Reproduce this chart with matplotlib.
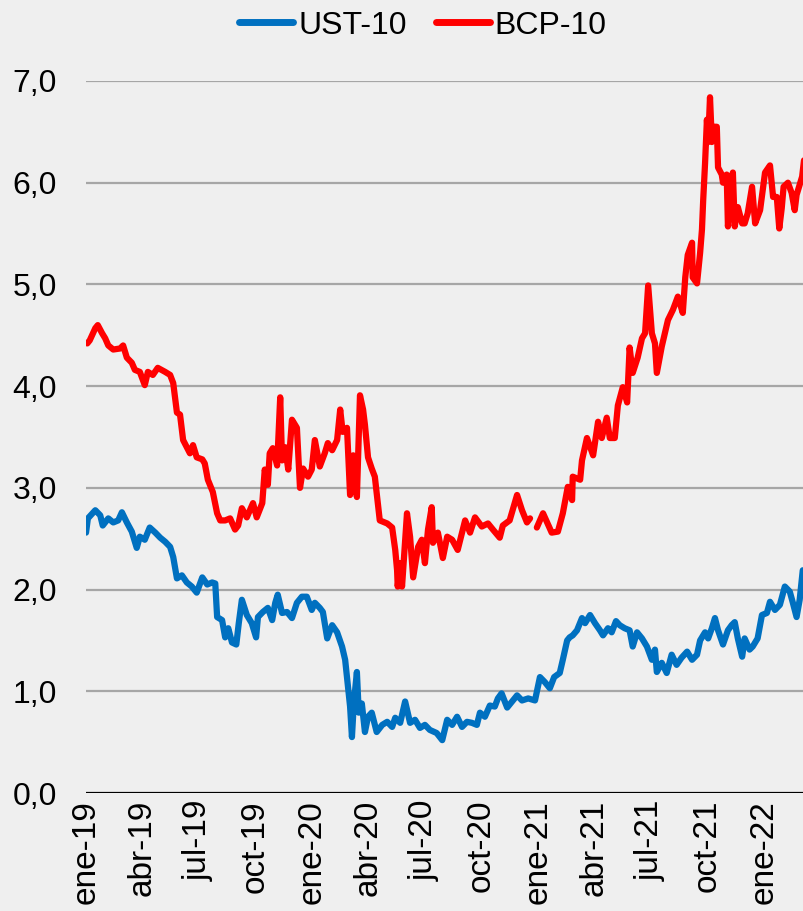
import numpy as np
import pandas as pd
import matplotlib
matplotlib.use("Agg")
import matplotlib.pyplot as plt

# BCP-10 (Peru 10y bond yield, %)
bcp_dates = [
    "2019-01-03", "2019-01-07", "2019-01-16", "2019-01-20", "2019-01-27", "2019-02-01", "2019-02-06",
    "2019-02-14", "2019-02-25", "2019-03-02", "2019-03-08", "2019-03-16", "2019-03-21", "2019-03-29",
    "2019-04-06", "2019-04-11", "2019-04-19", "2019-04-27", "2019-05-09", "2019-05-17", "2019-05-22",
    "2019-05-28", "2019-06-02", "2019-06-07", "2019-06-13", "2019-06-18", "2019-06-23", "2019-06-29",
    "2019-07-08", "2019-07-12", "2019-07-17", "2019-07-25", "2019-08-01", "2019-08-06", "2019-08-14",
    "2019-08-22", "2019-08-30", "2019-09-04", "2019-09-10", "2019-09-18", "2019-09-28", "2019-10-04",
    "2019-10-13", "2019-10-17", "2019-10-22", "2019-10-25", "2019-10-30", "2019-11-06", "2019-11-11",
    "2019-11-14", "2019-11-19", "2019-11-24", "2019-11-30", "2019-12-08", "2019-12-13", "2019-12-18",
    "2019-12-26", "2020-01-01", "2020-01-06", "2020-01-14", "2020-01-22", "2020-01-27", "2020-02-03",
    "2020-02-11", "2020-02-16", "2020-02-20", "2020-02-27", "2020-03-03", "2020-03-08", "2020-03-14",
    "2020-03-19", "2020-03-24", "2020-03-27", "2020-04-01", "2020-04-07", "2020-04-12", "2020-04-20",
    "2020-05-02", "2020-05-10", "2020-05-15", "2020-05-18", "2020-05-19", "2020-05-23", "2020-05-26",
    "2020-06-03", "2020-06-08", "2020-06-13", "2020-06-21", "2020-06-27", "2020-07-02", "2020-07-07",
    "2020-07-13", "2020-07-15", "2020-07-23", "2020-07-31", "2020-08-07", "2020-08-15", "2020-08-24",
    "2020-09-05", "2020-09-13", "2020-09-21", "2020-10-02", "2020-10-12", "2020-10-20", "2020-10-31",
    "2020-11-05", "2020-11-16", "2020-11-28", "2020-12-06", "2020-12-14", "2020-12-19", "2020-12-24",
    "2020-12-30", "2021-01-09", "2021-01-23", "2021-02-02", "2021-02-10", "2021-02-18", "2021-02-25",
    "2021-02-26", "2021-03-10", "2021-03-13", "2021-03-21", "2021-03-31", "2021-04-08", "2021-04-14",
    "2021-04-22", "2021-04-27", "2021-05-05", "2021-05-10", "2021-05-18", "2021-05-25", "2021-05-29",
    "2021-06-03", "2021-06-11", "2021-06-18", "2021-06-23", "2021-06-28", "2021-07-04", "2021-07-09",
    "2021-07-12", "2021-07-20", "2021-07-25", "2021-07-30", "2021-08-07", "2021-08-15", "2021-08-23",
    "2021-08-27", "2021-08-31", "2021-09-07", "2021-09-08", "2021-09-15", "2021-09-20", "2021-09-23",
    "2021-09-25", "2021-09-28", "2021-10-01", "2021-10-03", "2021-10-06", "2021-10-09", "2021-10-12",
    "2021-10-17", "2021-10-19", "2021-10-25", "2021-10-27", "2021-11-02", "2021-11-04", "2021-11-09",
    "2021-11-12", "2021-11-15", "2021-11-20", "2021-11-27", "2021-12-01", "2021-12-06", "2021-12-13",
    "2021-12-18", "2021-12-26", "2022-01-03", "2022-01-11", "2022-01-16", "2022-01-22", "2022-01-26",
    "2022-01-30", "2022-02-02", "2022-02-09", "2022-02-15", "2022-02-20", "2022-02-23", "2022-03-04",
    "2022-03-07",
]
bcp_values = [
    4.42, 4.45, 4.57, 4.60, 4.52, 4.47, 4.40,
    4.36, 4.37, 4.40, 4.28, 4.23, 4.16, 4.14,
    4.01, 4.14, 4.11, 4.18, 4.14, 4.11, 4.03,
    3.74, 3.72, 3.47, 3.40, 3.34, 3.42, 3.30,
    3.28, 3.24, 3.08, 2.96, 2.75, 2.68, 2.68,
    2.70, 2.59, 2.63, 2.80, 2.71, 2.85, 2.71,
    2.85, 3.18, 3.03, 3.34, 3.39, 3.22, 3.89,
    3.27, 3.40, 3.18, 3.67, 3.59, 3.00, 3.19,
    3.11, 3.18, 3.47, 3.21, 3.34, 3.44, 3.37,
    3.47, 3.77, 3.55, 3.59, 2.93, 3.32, 2.91,
    3.91, 3.77, 3.62, 3.30, 3.19, 3.11, 2.68,
    2.65, 2.61, 2.39, 2.19, 2.03, 2.26, 2.03,
    2.75, 2.52, 2.12, 2.42, 2.49, 2.26, 2.59,
    2.81, 2.46, 2.56, 2.31, 2.52, 2.49, 2.39,
    2.68, 2.56, 2.71, 2.62, 2.65, 2.59, 2.51,
    2.63, 2.68, 2.93, 2.78, 2.66, 2.70, np.nan,
    2.61, 2.75, 2.56, 2.57, 2.75, 3.01, 2.88,
    3.11, 3.08, 3.27, 3.49, 3.32, 3.65, 3.49,
    3.69, 3.49, 3.49, 3.81, 3.99, 3.84, 4.38,
    4.13, 4.28, 4.47, 4.52, 4.99, 4.52, 4.42,
    4.13, 4.39, 4.52, 4.65, 4.75, 4.88, 4.72,
    5.07, 5.29, 5.41, 5.07, 5.01, 5.31, 5.54,
    5.83, 6.19, 6.62, 6.40, 6.84, 6.40, 6.55,
    6.55, 6.15, 6.08, 6.00, 6.08, 5.57, 5.93,
    6.10, 5.57, 5.76, 5.60, 5.60, 5.70, 5.96,
    5.60, 5.73, 6.10, 6.17, 5.86, 5.86, 5.55,
    5.75, 5.96, 6.00, 5.90, 5.73, 5.88, 6.06,
    6.22,
]

# UST-10 (US Treasury 10y yield, %)
ust_dates = [
    "2019-01-01", "2019-01-04", "2019-01-16", "2019-01-24", "2019-01-28", "2019-02-06", "2019-02-14",
    "2019-02-22", "2019-02-28", "2019-03-08", "2019-03-16", "2019-03-24", "2019-03-29", "2019-04-06",
    "2019-04-14", "2019-04-23", "2019-05-01", "2019-05-09", "2019-05-17", "2019-05-22", "2019-05-28",
    "2019-06-05", "2019-06-13", "2019-06-21", "2019-06-29", "2019-07-08", "2019-07-16", "2019-07-24",
    "2019-07-29", "2019-08-01", "2019-08-09", "2019-08-14", "2019-08-19", "2019-08-25", "2019-09-01",
    "2019-09-05", "2019-09-10", "2019-09-18", "2019-09-26", "2019-10-03", "2019-10-06", "2019-10-14",
    "2019-10-22", "2019-10-29", "2019-11-03", "2019-11-07", "2019-11-14", "2019-11-22", "2019-11-30",
    "2019-12-08", "2019-12-16", "2019-12-24", "2020-01-01", "2020-01-06", "2020-01-14", "2020-01-19",
    "2020-01-26", "2020-02-03", "2020-02-11", "2020-02-19", "2020-02-24", "2020-02-27", "2020-03-03",
    "2020-03-06", "2020-03-09", "2020-03-14", "2020-03-17", "2020-03-22", "2020-03-27", "2020-04-01",
    "2020-04-07", "2020-04-15", "2020-04-24", "2020-05-02", "2020-05-10", "2020-05-15", "2020-05-23",
    "2020-05-31", "2020-06-08", "2020-06-16", "2020-06-24", "2020-07-02", "2020-07-10", "2020-07-21",
    "2020-07-30", "2020-08-07", "2020-08-15", "2020-08-23", "2020-08-31", "2020-09-08", "2020-09-16",
    "2020-09-24", "2020-09-29", "2020-10-07", "2020-10-15", "2020-10-23", "2020-10-28", "2020-11-03",
    "2020-11-12", "2020-11-20", "2020-11-28", "2020-12-06", "2020-12-16", "2020-12-27", "2021-01-04",
    "2021-01-12", "2021-01-20", "2021-01-27", "2021-02-05", "2021-02-10", "2021-02-17", "2021-02-21",
    "2021-02-26", "2021-03-05", "2021-03-13", "2021-03-18", "2021-03-26", "2021-04-03", "2021-04-11",
    "2021-04-16", "2021-04-24", "2021-04-30", "2021-05-07", "2021-05-13", "2021-05-21", "2021-05-29",
    "2021-06-03", "2021-06-10", "2021-06-18", "2021-06-26", "2021-07-04", "2021-07-09", "2021-07-12",
    "2021-07-20", "2021-07-28", "2021-08-05", "2021-08-13", "2021-08-21", "2021-08-30", "2021-09-07",
    "2021-09-15", "2021-09-20", "2021-09-28", "2021-10-03", "2021-10-09", "2021-10-14", "2021-10-19",
    "2021-10-27", "2021-11-04", "2021-11-10", "2021-11-15", "2021-11-20", "2021-11-27", "2021-12-01",
    "2021-12-09", "2021-12-14", "2021-12-22", "2021-12-29", "2022-01-06", "2022-01-11", "2022-01-19",
    "2022-01-27", "2022-02-04", "2022-02-12", "2022-02-17", "2022-02-23", "2022-02-28", "2022-03-05",
]
ust_values = [
    2.56, 2.70, 2.78, 2.73, 2.63, 2.70, 2.66,
    2.68, 2.76, 2.66, 2.57, 2.41, 2.52, 2.49,
    2.61, 2.56, 2.51, 2.47, 2.42, 2.32, 2.11,
    2.14, 2.07, 2.03, 1.97, 2.12, 2.05, 2.07,
    2.06, 1.73, 1.70, 1.53, 1.62, 1.48, 1.46,
    1.67, 1.90, 1.75, 1.67, 1.53, 1.73, 1.78,
    1.82, 1.70, 1.87, 1.95, 1.77, 1.78, 1.72,
    1.87, 1.93, 1.93, 1.80, 1.87, 1.82, 1.78,
    1.52, 1.65, 1.58, 1.44, 1.31, 1.14, 0.85,
    0.55, 0.88, 1.19, 0.79, 0.88, 0.60, 0.75,
    0.79, 0.60, 0.67, 0.70, 0.65, 0.74, 0.69,
    0.90, 0.69, 0.72, 0.64, 0.67, 0.62, 0.59,
    0.52, 0.72, 0.67, 0.75, 0.65, 0.70, 0.69,
    0.67, 0.79, 0.75, 0.86, 0.85, 0.93, 0.98,
    0.84, 0.90, 0.96, 0.91, 0.93, 0.91, 1.14,
    1.09, 1.03, 1.14, 1.18, 1.31, 1.50, 1.53,
    1.55, 1.60, 1.72, 1.67, 1.75, 1.67, 1.60,
    1.55, 1.62, 1.58, 1.69, 1.65, 1.62, 1.60,
    1.44, 1.58, 1.52, 1.44, 1.31, 1.41, 1.19,
    1.28, 1.18, 1.36, 1.26, 1.33, 1.39, 1.31,
    1.36, 1.50, 1.58, 1.52, 1.62, 1.72, 1.60,
    1.46, 1.60, 1.65, 1.68, 1.52, 1.34, 1.52,
    1.41, 1.44, 1.52, 1.75, 1.77, 1.88, 1.80,
    1.85, 2.03, 1.98, 1.87, 1.73, 1.90, 2.19,
]

tick_dates = ["2019-01-01", "2019-04-01", "2019-07-01", "2019-10-01", "2020-01-01", "2020-04-01",
              "2020-07-01", "2020-10-01", "2021-01-01", "2021-04-01", "2021-07-01", "2021-10-01",
              "2022-01-01"]
tick_labels = ["ene-19", "abr-19", "jul-19", "oct-19", "ene-20", "abr-20", "jul-20", "oct-20",
               "ene-21", "abr-21", "jul-21", "oct-21", "ene-22"]
y_ticks = [0, 1, 2, 3, 4, 5, 6, 7]

BLUE = "#0070C0"
RED = "#FF0000"
BG = "#EFEFEF"
FONT = "Liberation Sans"

fig = plt.figure(figsize=(8.04, 9.11), dpi=100, facecolor=BG)
ax = fig.add_axes([0.107, 0.1295, 0.893, 0.7816])
ax.set_facecolor("none")

ax.plot(pd.to_datetime(ust_dates), ust_values, color=BLUE, lw=4.5, label="UST-10",
        solid_joinstyle="round", solid_capstyle="round", zorder=3)
ax.plot(pd.to_datetime(bcp_dates), bcp_values, color=RED, lw=4.5, label="BCP-10",
        solid_joinstyle="round", solid_capstyle="round", zorder=3)

ax.set_xlim(pd.Timestamp("2019-01-01"), pd.Timestamp("2022-03-07"))
ax.set_ylim(0, 7)

# grid + zero line
for v in y_ticks[1:]:
    ax.axhline(v, color="#A6A6A6", lw=1.6, zorder=1)
ax.axhline(0, color="black", lw=1.6, zorder=2)

for s in ax.spines.values():
    s.set_visible(False)

ax.set_yticks(y_ticks)
ax.set_yticklabels([f"{v},0" for v in y_ticks], fontsize=23, family=FONT)
ax.set_xticks(pd.to_datetime(tick_dates))
ax.set_xticklabels(tick_labels, rotation=90, fontsize=24, family=FONT)
ax.tick_params(axis="y", length=0, pad=21)
ax.tick_params(axis="x", length=0, pad=5)

leg = fig.legend(loc="center", bbox_to_anchor=(0.526, 0.972), ncol=2, frameon=False,
                 prop={"family": FONT, "size": 23},
                 handlelength=1.7, handletextpad=0.15, columnspacing=0.9)
for line in leg.get_lines():
    line.set_linewidth(5)
    line.set_solid_capstyle("round")

fig.savefig("out.png", dpi=100, facecolor=BG)
